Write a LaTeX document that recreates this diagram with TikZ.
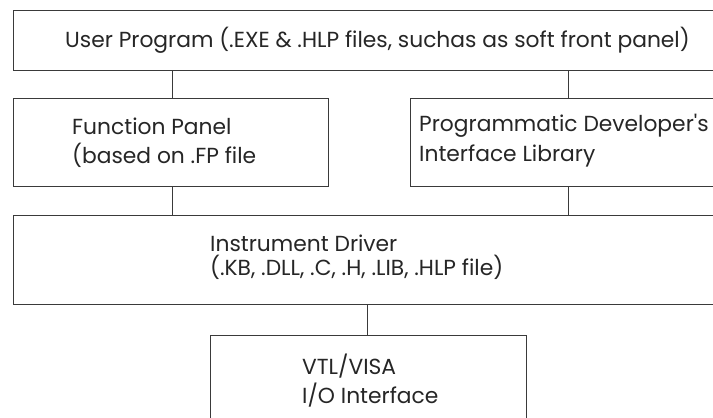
\documentclass[tikz,border=0pt]{standalone}
\usepackage{fontspec}
\setmainfont{Poppins}[Ligatures=TeXOff]
\definecolor{linegray}{HTML}{3A3A3A}
\definecolor{textgray}{HTML}{262626}
\tikzset{
  blockbox/.style={draw=linegray, line width=1pt, rectangle, inner sep=0pt, anchor=north west},
  link/.style={draw=linegray, line width=1pt},
  caption/.style={anchor=base west, inner sep=0pt, text=textgray, font=\fontsize{21.8}{26}\selectfont},
}
\begin{document}
\begin{tikzpicture}[x=1pt, y=-1pt]
  \clip (0,0) rectangle (713,418);
  \fill[white] (0,0) rectangle (713,418);

  % blocks (right-hand and bottom sides run off the page)
  \node[blockbox, minimum width=720pt, minimum height=60pt] (user) at (13,10) {};
  \node[blockbox, minimum width=315pt, minimum height=88pt] (fpanel) at (13,98) {};
  \node[blockbox, minimum width=320pt, minimum height=88pt] (pdil) at (410,98) {};
  \node[blockbox, minimum width=720pt, minimum height=89pt] (driver) at (13,215) {};
  \node[blockbox, minimum width=316pt, minimum height=110pt] (visa) at (210,335) {};

  % connector columns
  \coordinate (colL) at (172,0);
  \coordinate (colR) at (568,0);
  \coordinate (colM) at (367,0);

  \draw[link] (user.south -| colL) -- (fpanel.north -| colL);
  \draw[link] (user.south -| colR) -- (pdil.north -| colR);
  \draw[link] (fpanel.south -| colL) -- (driver.north -| colL);
  \draw[link] (pdil.south -| colR) -- (driver.north -| colR);
  \draw[link] (driver.south -| colM) -- (visa.north -| colM);

  % texts
  \node[caption] (t1) at (65,47) {User Program (.EXE \& .HLP files, suchas as soft front panel)};
  \node[caption] (t2) at (72,134) {Function Panel};
  \node[caption] (t3) at (72,163) {(based on .FP file};
  \node[caption] (t4) at (419,131) {Programmatic Developer's};
  \node[caption] (t5) at (419,161) {Interface Library};
  \node[caption] (t6) at (210,251) {Instrument Driver};
  \node[caption] (t7) at (210,275) {(.KB, .DLL, .C, .H, .LIB, .HLP file)};
  \node[caption] (t8) at (302,374) {VTL/VISA};
  \node[caption] (t9) at (302,403) {I/O Interface};
\end{tikzpicture}
\end{document}
